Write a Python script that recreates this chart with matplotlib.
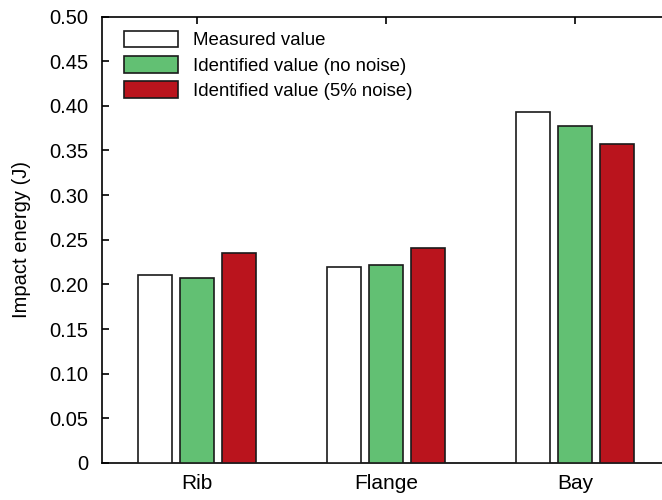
import numpy as np
from matplotlib import pyplot as plt

plt.rcParams["font.family"] = ["Liberation Sans", "DejaVu Sans"]

locations = ["Rib", "Flange", "Bay"]
measured = [0.211, 0.219, 0.393]
identified_clean = [0.207, 0.222, 0.377]
identified_noisy = [0.235, 0.241, 0.357]

series_labels = ["Measured value", "Identified value (no noise)", "Identified value (5% noise)"]
series_colors = ["white", "#62c073", "#ba141d"]

y_ticks = [0, 0.05, 0.10, 0.15, 0.20, 0.25, 0.30, 0.35, 0.40, 0.45, 0.50]
y_tick_labels = ["0", "0.05", "0.10", "0.15", "0.20", "0.25", "0.30", "0.35", "0.40", "0.45", "0.50"]

fig = plt.figure(figsize=(6.62, 5.0), dpi=100)
ax = fig.add_axes([102 / 662, 1 - 463 / 500, 568 / 662, 446.5 / 500])

x = np.arange(len(locations))
width = 0.18
step = 0.222
for i, (vals, lab, col) in enumerate(zip([measured, identified_clean, identified_noisy],
                                         series_labels, series_colors)):
    ax.bar(x + (i - 1) * step, vals, width, color=col, edgecolor="#1a1a1a",
           linewidth=1.2, label=lab, zorder=3)

ax.set_xlim(-0.5, 2.5)
ax.set_ylim(0, 0.5)
ax.set_xticks(x)
ax.set_xticklabels(locations, fontsize=15)
ax.set_yticks(y_ticks)
ax.set_yticklabels(y_tick_labels, fontsize=14.5)
ax.set_ylabel("Impact energy (J)", fontsize=14.5, labelpad=13)

for s in ax.spines.values():
    s.set_linewidth(1.2)
ax.tick_params(axis="y", direction="in", length=5, width=1.2, pad=10, right=False)
ax.tick_params(axis="x", direction="in", length=5, width=1.2, pad=8, top=True, bottom=False)

ax.legend(loc="upper left", bbox_to_anchor=(0.0387, 0.968), frameon=False, fontsize=13.4,
          handlelength=2.9, handleheight=1.0, handletextpad=0.8, labelspacing=0.35,
          borderpad=0, borderaxespad=0)

fig.savefig("out.png", dpi=100)
